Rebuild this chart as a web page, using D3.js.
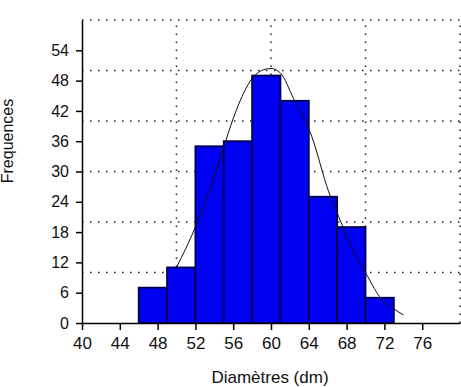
<!DOCTYPE html>
<html>
<head>
<meta charset="utf-8">
<script src="https://cdn.jsdelivr.net/npm/d3@7"></script>
<style>
	body { margin: 0; background: #fff; }
	svg text { font-family: "Liberation Sans", Arial, sans-serif; fill: #111; }
</style>
</head>
<body>
<svg id="hist" width="461" height="387"></svg>
<script>
// class limits (dm) and counts
const binStarts = [46, 49, 52, 55, 58, 61, 64, 67, 70];
const binWidth = 3;
const counts = [7, 11, 35, 36, 49, 44, 25, 19, 5];

// fitted curve
const curveX = [50, 52, 54, 55.2, 56.3, 58, 59, 60, 61, 62.4, 64.3, 66.1, 67.4, 68.5, 70, 71.5, 73, 74];
const curveY = [11, 19, 29, 36, 42, 48.4, 50, 50.4, 49.5, 44.4, 37, 26, 20, 15, 10, 5.2, 2.8, 1.6];

const xTicks = [40, 44, 48, 52, 56, 60, 64, 68, 72, 76];
const yTicks = [0, 6, 12, 18, 24, 30, 36, 42, 48, 54];
const xGrid = [50, 60, 70, 80];
const yGrid = [10, 20, 30, 40, 50, 60];

const margin = { left: 82, right: 1, top: 20, bottom: 64 };
const svg = d3.select("#hist");
const width = 461, height = 387;

const x = d3.scaleLinear().domain([40, 80]).range([margin.left, width - margin.right]);
const y = d3.scaleLinear().domain([0, 60]).range([height - margin.bottom, margin.top]);

// dotted grid
const grid = svg.append("g").attr("class", "grid");
grid.selectAll(".gx")
	.data(xGrid)
	.enter()
	.append("line")
	.attr("x1", d => x(d)).attr("x2", d => x(d))
	.attr("y1", y(0)).attr("y2", y(60))
	.attr("stroke", "#222")
	.attr("stroke-width", 1.5)
	.attr("stroke-dasharray", "1.5,6.5");
grid.selectAll(".gy")
	.data(yGrid)
	.enter()
	.append("line")
	.attr("x1", x(40)).attr("x2", x(80))
	.attr("y1", d => y(d)).attr("y2", d => y(d))
	.attr("stroke", "#222")
	.attr("stroke-width", 1.5)
	.attr("stroke-dasharray", "1.5,6.5");

// bars
svg.append("g").selectAll("rect")
	.data(counts)
	.enter()
	.append("rect")
	.attr("x", (_, i) => x(binStarts[i]))
	.attr("width", (_, i) => x(binStarts[i] + binWidth) - x(binStarts[i]))
	.attr("y", d => y(d))
	.attr("height", d => y(0) - y(d))
	.attr("fill", "#0000f2")
	.attr("stroke", "#000050")
	.attr("stroke-width", 1.8);

// curve
const line = d3.line()
	.x(d => x(d[0]))
	.y(d => y(d[1]))
	.curve(d3.curveMonotoneX);
svg.append("path")
	.attr("d", line(curveX.map((v, i) => [v, curveY[i]])))
	.attr("fill", "none")
	.attr("stroke", "#111")
	.attr("stroke-width", 1);

// axes
const xAxis = svg.append("g")
	.attr("transform", `translate(0,${y(0)})`)
	.call(d3.axisBottom(x).tickValues(xTicks).tickSize(7).tickSizeOuter(0).tickPadding(7));
const yAxis = svg.append("g")
	.attr("transform", `translate(${x(40)},0)`)
	.call(d3.axisLeft(y).tickValues(yTicks).tickSize(6).tickSizeOuter(0).tickPadding(7));
[xAxis, yAxis].forEach(a => {
	a.select(".domain").attr("stroke", "#000").attr("stroke-width", 1.5);
	a.selectAll(".tick line").attr("stroke", "#000").attr("stroke-width", 1.5);
	a.selectAll(".tick text").style("font-size", "16px").attr("fill", "#111");
});
xAxis.selectAll(".tick text").style("font-size", "17px");

svg.append("text")
	.attr("x", 270)
	.attr("y", 383)
	.attr("text-anchor", "middle")
	.style("font-size", "17px")
	.text("Diamètres (dm)");

svg.append("text")
	.attr("transform", "translate(13,141) rotate(-90)")
	.attr("text-anchor", "middle")
	.style("font-size", "16px")
	.text("Frequences");
</script>
</body>
</html>
